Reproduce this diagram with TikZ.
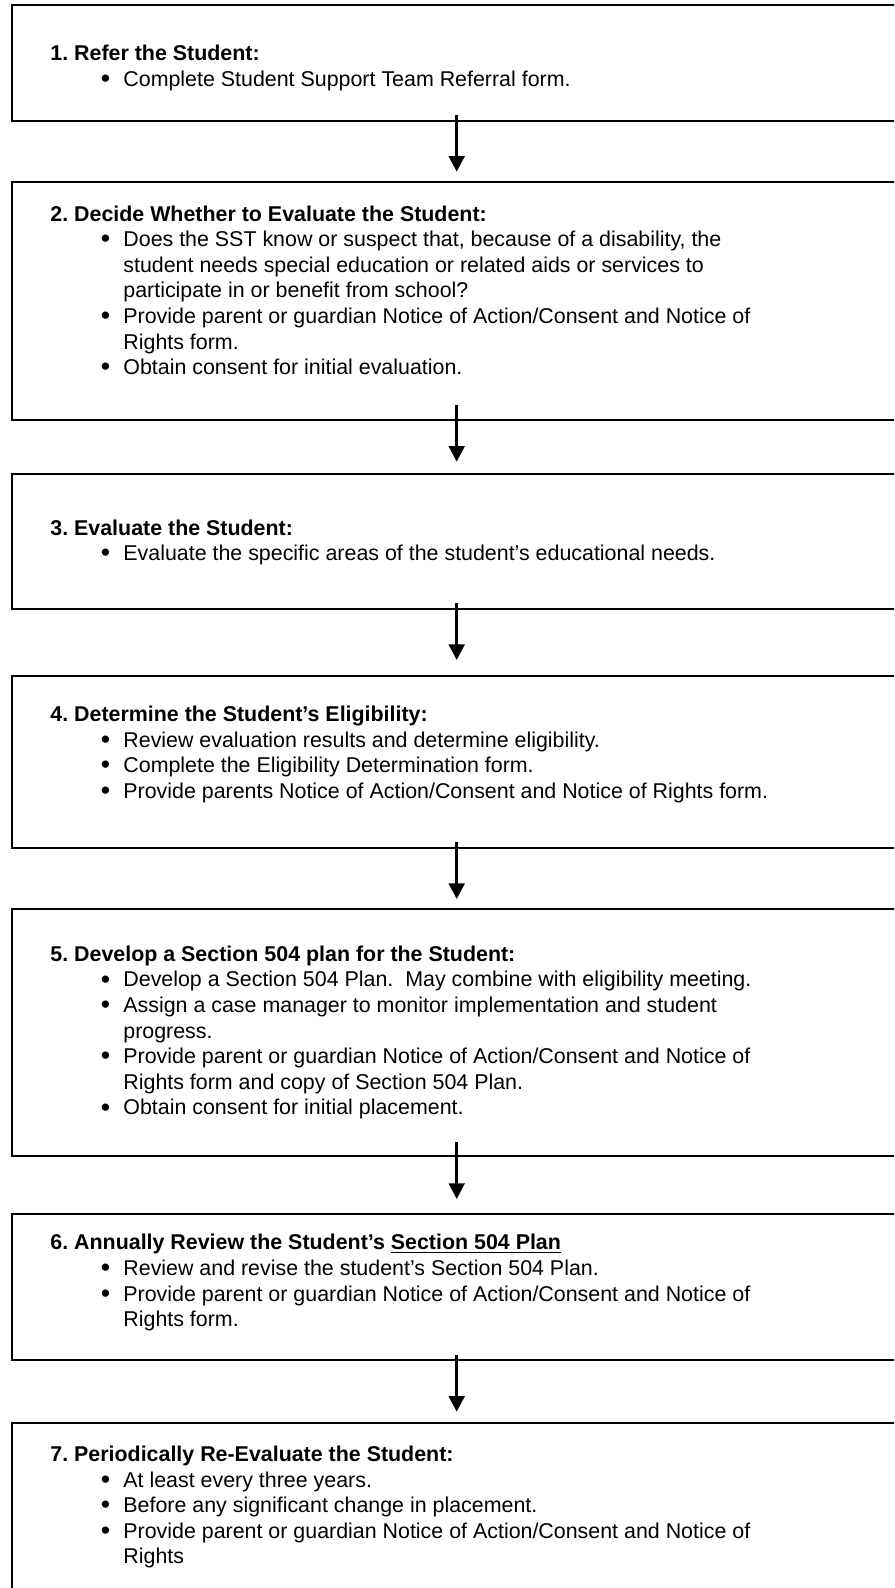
\documentclass[tikz,border=0pt]{standalone}
\usepackage{fontspec}
\setmainfont{Liberation Sans}
\usetikzlibrary{arrows.meta}
\begin{document}
\frenchspacing
\begin{tikzpicture}[x=0.5pt,y=0.5pt,
  box/.style={draw=black, line width=1.1pt, rectangle, anchor=north west, inner sep=0pt, outer sep=0pt, minimum width=446.7pt},
  hd/.style={anchor=base west, inner sep=0pt, font=\fontsize{10.7pt}{12.8pt}\selectfont\bfseries},
  bl/.style={anchor=base west, inner sep=0pt, font=\fontsize{10.7pt}{12.8pt}\selectfont},
  flow/.style={line width=1.5pt, -{Triangle[width=7.8pt,length=7.8pt]}}]
\clip (0,0) rectangle (894,-1588);
\fill[white] (0,0) rectangle (894,-1588);
\newcommand{\bu}{\makebox[10.85pt][l]{\hspace*{-0.4pt}\raisebox{-0.55pt}{\scalebox{1.25}{\textbullet}}}}
% boxes
\node[box, minimum height=57.7pt] (b1) at (11.7,-5.3) {};
\node[box, minimum height=119.15pt] (b2) at (11.7,-181.7) {};
\node[box, minimum height=67.5pt] (b3) at (11.7,-474) {};
\node[box, minimum height=86.15pt] (b4) at (11.7,-676) {};
\node[box, minimum height=123.5pt] (b5) at (11.7,-909) {};
\node[box, minimum height=73pt] (b6) at (11.7,-1214) {};
\node[box, minimum height=90pt] (b7) at (11.7,-1423.3) {};
% box 1
\node[hd] (h1) at (50,-60.5) {1. Refer the Student:};
\node[bl] (l1a) at (101.3,-86.1) {\bu Complete Student Support Team Referral form.};
% box 2
\node[hd] (h2) at (50,-221.1) {2. Decide Whether to Evaluate the Student:};
\node[bl] (l2a) at (101.3,-246.7) {\bu Does the SST know or suspect that, because of a disability, the};
\node[bl] (l2b) at (123,-272.3) {student needs special education or related aids or services to};
\node[bl] (l2c) at (123,-297.9) {participate in or benefit from school?};
\node[bl] (l2d) at (101.3,-323.5) {\bu Provide parent or guardian Notice of Action/Consent and Notice of};
\node[bl] (l2e) at (123,-349.1) {Rights form.};
\node[bl] (l2f) at (101.3,-374.7) {\bu Obtain consent for initial evaluation.};
% box 3
\node[hd] (h3) at (50,-535) {3. Evaluate the Student:};
\node[bl] (l3a) at (101.3,-560.6) {\bu Evaluate the specific areas of the student’s educational needs.};
% box 4
\node[hd] (h4) at (50,-721.5) {4. Determine the Student’s Eligibility:};
\node[bl] (l4a) at (101.3,-747.1) {\bu Review evaluation results and determine eligibility.};
\node[bl] (l4b) at (101.3,-772.7) {\bu Complete the Eligibility Determination form.};
\node[bl] (l4c) at (101.3,-798.3) {\bu Provide parents Notice of Action/Consent and Notice of Rights form.};
% box 5
\node[hd] (h5) at (50,-961.3) {5. Develop a Section 504 plan for the Student:};
\node[bl] (l5a) at (101.3,-986.9) {\bu Develop a Section 504 Plan.\ \ May combine with eligibility meeting.};
\node[bl] (l5b) at (101.3,-1012.5) {\bu Assign a case manager to monitor implementation and student};
\node[bl] (l5c) at (123,-1038.1) {progress.};
\node[bl] (l5d) at (101.3,-1063.7) {\bu Provide parent or guardian Notice of Action/Consent and Notice of};
\node[bl] (l5e) at (123,-1089.3) {Rights form and copy of Section 504 Plan.};
\node[bl] (l5f) at (101.3,-1114.9) {\bu Obtain consent for initial placement.};
% box 6
\node[hd] (h6) at (50,-1249.8) {6. Annually Review the Student’s \underline{Section 504 Plan}};
\node[bl] (l6a) at (101.3,-1275.4) {\bu Review and revise the student’s Section 504 Plan.};
\node[bl] (l6b) at (101.3,-1301) {\bu Provide parent or guardian Notice of Action/Consent and Notice of};
\node[bl] (l6c) at (123,-1326.6) {Rights form.};
% box 7
\node[hd] (h7) at (50,-1461.5) {7. Periodically Re-Evaluate the Student:};
\node[bl] (l7a) at (101.3,-1487.1) {\bu At least every three years.};
\node[bl] (l7b) at (101.3,-1512.7) {\bu Before any significant change in placement.};
\node[bl] (l7c) at (101.3,-1538.3) {\bu Provide parent or guardian Notice of Action/Consent and Notice of};
\node[bl] (l7d) at (123,-1563.9) {Rights};
% arrows
\coordinate (s1) at (456.7,-115);   \coordinate (e1) at (456.7,-171.7);
\coordinate (s2) at (456.7,-405);   \coordinate (e2) at (456.7,-461.7);
\coordinate (s3) at (456.7,-603);   \coordinate (e3) at (456.7,-660);
\coordinate (s4) at (456.7,-842);   \coordinate (e4) at (456.7,-899);
\coordinate (s5) at (456.7,-1142);  \coordinate (e5) at (456.7,-1199);
\coordinate (s6) at (456.7,-1355);  \coordinate (e6) at (456.7,-1411.7);
\draw[flow] (s1) -- (e1);
\draw[flow] (s2) -- (e2);
\draw[flow] (s3) -- (e3);
\draw[flow] (s4) -- (e4);
\draw[flow] (s5) -- (e5);
\draw[flow] (s6) -- (e6);
\end{tikzpicture}
\end{document}
